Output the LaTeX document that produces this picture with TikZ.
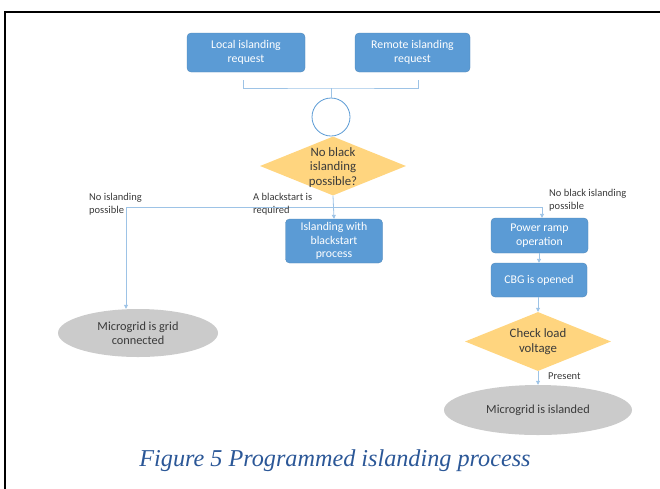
\documentclass[tikz,border=0pt]{standalone}
\usepackage{fontspec}
\setmainfont{Carlito}
\newfontfamily\capfont{Liberation Serif}
\usetikzlibrary{shapes.geometric,arrows.meta}
\definecolor{boxblue}{HTML}{5B9BD5}
\definecolor{connblue}{HTML}{9DC3E6}
\definecolor{diagold}{HTML}{FFD57F}
\definecolor{ellgrey}{HTML}{CBCBCB}
\definecolor{txtdark}{HTML}{3A3A3A}
\definecolor{capblue}{HTML}{2B5797}
\tikzset{
  stepbox/.style={rectangle, rounded corners=4pt, fill=boxblue, draw=boxblue!85!black, line width=0.3pt, text=white, align=center, font=\fontsize{11.8}{13.5}\selectfont, inner sep=0pt},
  decis/.style={diamond, fill=diagold, inner sep=0pt, minimum width=146pt, minimum height=59pt, shape aspect=2.47},
  decistext/.style={align=center, text=txtdark, font=\fontsize{12.8}{14.8}\selectfont},
  endell/.style={ellipse, fill=ellgrey, inner sep=0pt, text=txtdark, align=center, font=\fontsize{12.3}{14}\selectfont},
  conn/.style={draw=connblue, line width=0.8pt},
  arr/.style={conn, -{Triangle[width=4pt,length=4pt]}},
  lab/.style={align=left, anchor=north west, inner sep=0pt, text=txtdark, font=\fontsize{10.5}{13}\selectfont},
}
\begin{document}
\begin{tikzpicture}[x=1pt,y=-1pt]
\useasboundingbox (0,0) rectangle (660,488);
% frame
\draw[line width=2pt, line cap=rect] (5,489) -- (5,12) -- (661,12);
% top boxes
\node[stepbox, minimum width=118pt, minimum height=39pt] (loc) at (246,52.5) {Local islanding\\request};
\node[stepbox, minimum width=115pt, minimum height=39pt] (rem) at (412.5,52.5) {Remote islanding\\request};
% circle
\node[circle, draw=boxblue, fill=white, line width=0.8pt, minimum size=38pt, inner sep=0pt] (circ) at (331,117) {};
% bracket
\coordinate (bl) at (243,80);
\coordinate (br) at (418,80);
\coordinate (bm) at (331,88);
\draw[conn] (bl) |- (bm) -| (br);
\draw[conn] (bm) -- (circ.north);
% decision 1
\node[decis] (d1) at (333,166) {};
\node[decistext] at ([yshift=-1.5pt]d1.center) {No black\\islanding\\possible?};
% middle branch
\node[stepbox, minimum width=97pt, minimum height=44pt] (isl) at (334,241) {Islanding with\\blackstart\\process};
\draw[arr] (d1.south) -- (isl.north);
% horizontal distribution line
\coordinate (hl) at (126,207);
\coordinate (hr) at (542,207);
\draw[conn] (hl) -- (hr);
% left end
\node[endell, minimum width=160pt, minimum height=48pt] (grid) at (138,333) {Microgrid is grid\\connected};
\draw[arr] (hl) -- (grid.north -| hl);
% right branch
\node[stepbox, minimum width=97pt, minimum height=35pt] (ramp) at (539.5,235.5) {Power ramp\\operation};
\node[stepbox, minimum width=96pt, minimum height=34pt] (cbg) at (539,280) {CBG is opened};
\draw[arr] (hr) -- (ramp.north -| hr);
\draw[arr] (ramp.south -| 539,0) -- (cbg.north -| 539,0);
\node[decis] (d2) at (538,341.5) {};
\node[decistext] at (d2.center) {Check load\\voltage};
\draw[arr] (cbg.south -| 538,0) -- (d2.north);
\node[endell, minimum width=188pt, minimum height=50pt] (islanded) at (538,410) {Microgrid is islanded};
\draw[arr] (d2.south) -- (islanded.north);
% labels
\node[lab] (l1) at (89,193) {No islanding\\possible};
\node[lab] (l2) at (253,193) {A blackstart is\\required};
\node[lab] (l3) at (549,189) {No black islanding\\possible};
\node[lab, anchor=west] (l4) at (548,376) {Present};
% caption
\node[text=capblue, font=\capfont\itshape\fontsize{24.2}{28}\selectfont, inner sep=0pt] (cap) at (335,461) {Figure 5 Programmed islanding process};
\end{tikzpicture}
\end{document}
